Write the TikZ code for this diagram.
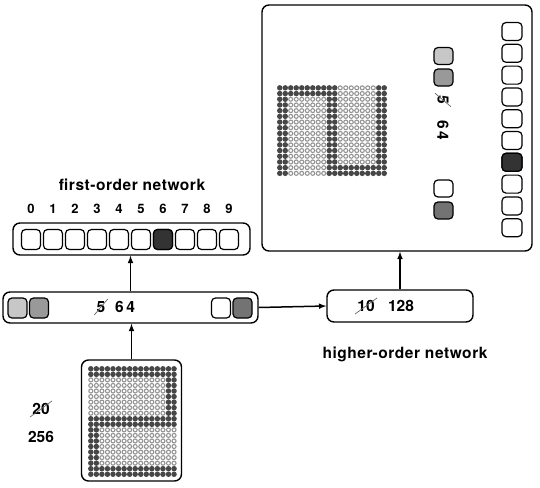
\documentclass[tikz,border=0pt]{standalone}
\usepackage{fontspec}
\setsansfont{TeX Gyre Heros}
\newfontfamily\lblfont[LetterSpace=3.5]{TeX Gyre Heros}
\usetikzlibrary{arrows,calc,shapes.misc}
\definecolor{LightClr}{gray}{0.78}
\definecolor{MidClr}{gray}{0.6}
\definecolor{DarkClr}{gray}{0.45}
\definecolor{OnClr}{gray}{0.2}
\definecolor{DotClr}{gray}{0.28}
\definecolor{RingClr}{gray}{0.58}

\tikzset{
  layer/.style={draw,line width=1.4pt,rounded corners=7pt,inner sep=0pt},
  unit/.style={draw,line width=1.2pt,rounded corners=4pt,inner sep=0pt,
    minimum width=19pt,minimum height=20pt},
  lbl/.style={font=\lblfont\bfseries\fontsize{15.5}{17}\selectfont},
  digit/.style={font=\sffamily\bfseries\fontsize{13}{15}\selectfont},
  num/.style={font=\sffamily\bfseries\fontsize{15.5}{17}\selectfont},
  crossed/.style={strike out,draw=black!60,line width=0.7pt,inner sep=2pt},
  link/.style={line width=1.5pt,-latex},
}

\begin{document}
\begin{tikzpicture}[x=1pt,y=-1pt]
\useasboundingbox (0,0) rectangle (540,487);

% first-order network
\node[layer,minimum width=237pt,minimum height=32pt] (out) at (131.5,239) {};
\foreach \k in {0,...,9}{
  \node[unit] (o\k) at (31+22*\k,239.5) {};
  \node[digit] (d\k) at (31+22*\k,209) {\k};
}
\node[unit,fill=OnClr] at (o6) {};
\node[lbl] (fo) at (132,185) {first-order network};

% hidden layer
\node[layer,minimum width=255pt,minimum height=31pt] (hid) at (130.5,307.5) {};
\node[unit,fill=LightClr] (h1) at (17.5,308) {};
\node[unit,fill=MidClr] (h2) at (39,308) {};
\node[unit,fill=white] (h3) at (221,308) {};
\node[unit,fill=DarkClr] (h4) at (242.5,308) {};
\node[num,crossed] (h5) at (101,307) {5};
\node[num] (h64) at (125,307) {6\,4};

% input
\node[layer,minimum width=100pt,minimum height=121pt] (inp) at (131.5,420.5) {};
\foreach \i in {0,...,19}
  \foreach \j in {0,...,15}{
    \pgfmathtruncatemacro\on{(\i<2)||(\i>17)||(\i==9)||(\i==10)||((\i<9)&&(\j>13))||((\i>10)&&(\j<2))}
    \pgfmathsetmacro\px{90.8+5.55*\j}
    \pgfmathsetmacro\py{368.8+5.55*\i}
    \ifnum\on=1
      \fill[DotClr] (\px,\py) circle (2.75);
    \else
      \draw[RingClr,fill=white,line width=1.1pt] (\px,\py) circle (2.0);
    \fi
  }
\node[num,crossed] (n20) at (41,409) {20};
\node[num] (n256) at (41,437) {256};

% higher-order network
\node[layer,minimum width=146pt,minimum height=32pt] (hi) at (400,306) {};
\node[num,crossed] (hi10) at (366,306) {10};
\node[num] (hi128) at (401,306) {128};
\node[lbl] (ho) at (405,354) {higher-order network};

% what the higher-order network sees
\node[layer,minimum width=270pt,minimum height=246pt] (big) at (397,128) {};
\foreach \k in {0,...,9}
  \node[unit,minimum width=20pt,minimum height=18pt] (b\k) at (512,31.5+21.8*\k) {};
\node[unit,minimum width=20pt,minimum height=18pt,fill=OnClr] at (b6) {};
\node[unit,minimum height=17pt,fill=LightClr] (s1) at (443.5,56) {};
\node[unit,minimum height=17pt,fill=MidClr] (s2) at (443.5,77.5) {};
\node[unit,minimum height=17pt,fill=white] (s3) at (443.5,188.5) {};
\node[unit,minimum height=17pt,fill=DarkClr] (s4) at (443.5,210.5) {};
\node[num,crossed,rotate=-90] (s5) at (443,100) {5};
\node[num,rotate=-90] (s64) at (443,130) {6\,4};
\foreach \i in {0,...,19}
  \foreach \j in {0,...,15}{
    \pgfmathtruncatemacro\on{(\i<2)||(\i>17)||(\i==9)||(\i==10)||((\i<9)&&(\j>13))||((\i>10)&&(\j<2))}
    \pgfmathsetmacro\px{279.75+5.5*\i}
    \pgfmathsetmacro\py{87.85+5.7*(15-\j)}
    \ifnum\on=1
      \fill[DotClr] (\px,\py) circle (2.75);
    \else
      \draw[RingClr,fill=white,line width=1.1pt] (\px,\py) circle (2.0);
    \fi
  }

% connections
\draw[link] (inp.north) -- (inp.north |- hid.south);
\draw[link] (hid.north) -- (hid.north |- out.south);
\draw[link] (hid.east) -- (hi.west);
\draw[link] (hi.north) -- (hi.north |- big.south);
\end{tikzpicture}
\end{document}
